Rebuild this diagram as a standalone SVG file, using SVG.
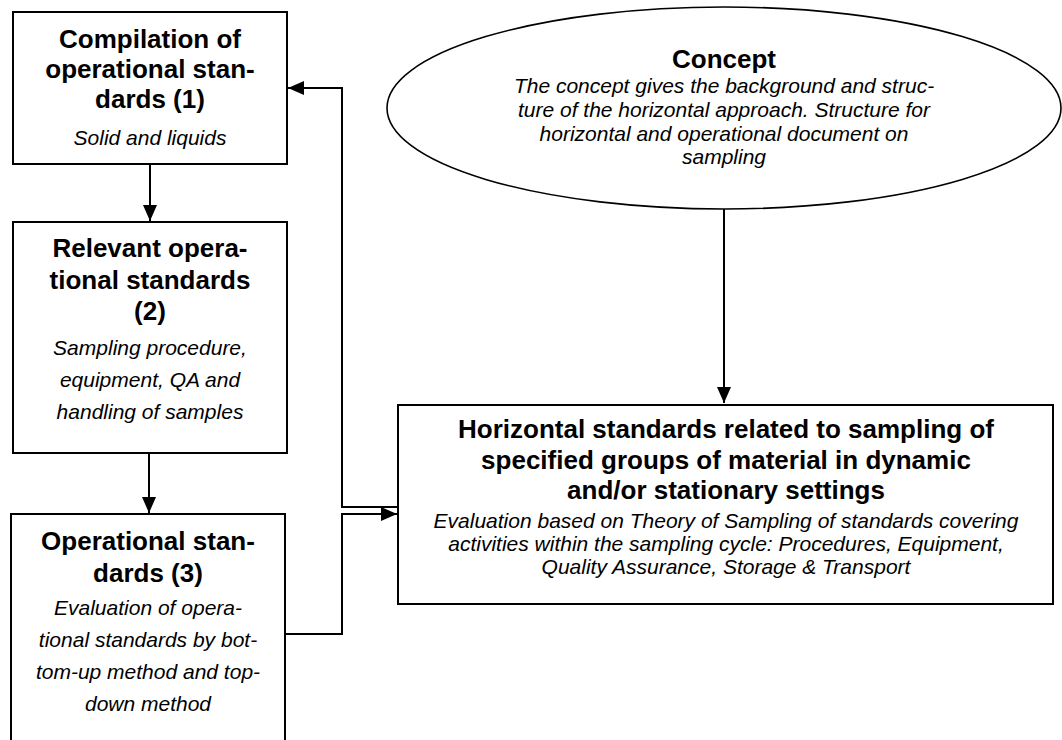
<svg xmlns="http://www.w3.org/2000/svg" width="1062" height="740" viewBox="0 0 1062 740">
<style>
.box{fill:#fff;stroke:#000;stroke-width:2}
.ell{fill:#fff;stroke:#000;stroke-width:1.6}
.h{font-family:"Liberation Sans",Arial,sans-serif;font-weight:bold;font-size:26px;text-anchor:middle;fill:#000}
.i{font-family:"Liberation Sans",Arial,sans-serif;font-style:italic;font-size:21px;text-anchor:middle;fill:#000}
.c{fill:none;stroke:#000;stroke-width:2}
</style>
<defs>
<marker id="arr" markerUnits="userSpaceOnUse" markerWidth="16" markerHeight="14" refX="16" refY="7" orient="auto">
<path d="M0,0 L16,7 L0,14 z" fill="#000"/>
</marker>
</defs>
<rect width="1062" height="740" fill="#fff"/>
<g id="connectors">
<path class="c" d="M150,164 L150,221" marker-end="url(#arr)"/>
<path class="c" d="M149,453 L149,513" marker-end="url(#arr)"/>
<path class="c" d="M724,209 L724,403" marker-end="url(#arr)"/>
<path class="c" d="M398,507 L342,507 L342,88 L288,88" marker-end="url(#arr)"/>
<path class="c" d="M285,634 L342,634 L342,514 L397,514" marker-end="url(#arr)"/>
</g>
<g id="node-compilation">
<rect class="box" x="13" y="12" width="274" height="152"/>
<text class="h" x="150" y="48">Compilation of</text>
<text class="h" x="150" y="78">operational stan-</text>
<text class="h" x="150" y="108">dards (1)</text>
<text class="i" x="150" y="145">Solid and liquids</text>
</g>
<g id="node-relevant">
<rect class="box" x="13" y="222" width="274" height="231"/>
<text class="h" x="150" y="257">Relevant opera-</text>
<text class="h" x="150" y="289">tional standards</text>
<text class="h" x="150" y="320">(2)</text>
<text class="i" x="150" y="355">Sampling procedure,</text>
<text class="i" x="150" y="387">equipment, QA and</text>
<text class="i" x="150" y="419">handling of samples</text>
</g>
<g id="node-operational">
<rect class="box" x="11" y="514" width="274" height="240"/>
<text class="h" x="148" y="550">Operational stan-</text>
<text class="h" x="148" y="582">dards (3)</text>
<text class="i" x="148" y="615">Evaluation of opera-</text>
<text class="i" x="148" y="647">tional standards by bot-</text>
<text class="i" x="148" y="679">tom-up method and top-</text>
<text class="i" x="148" y="711">down method</text>
</g>
<g id="node-concept">
<ellipse class="ell" cx="724" cy="108" rx="337" ry="101"/>
<text class="h" x="724" y="68">Concept</text>
<text class="i" x="724" y="93">The concept gives the background and struc-</text>
<text class="i" x="724" y="117">ture of the horizontal approach. Structure for</text>
<text class="i" x="724" y="141">horizontal and operational document on</text>
<text class="i" x="724" y="164">sampling</text>
</g>
<g id="node-horizontal">
<rect class="box" x="398" y="405" width="655" height="199"/>
<text class="h" x="726" y="438">Horizontal standards related to sampling of</text>
<text class="h" x="726" y="469">specified groups of material in dynamic</text>
<text class="h" x="726" y="499">and/or stationary settings</text>
<text class="i" x="726" y="528">Evaluation based on Theory of Sampling of standards covering</text>
<text class="i" x="726" y="551">activities within the sampling cycle: Procedures, Equipment,</text>
<text class="i" x="726" y="574">Quality Assurance, Storage &amp; Transport</text>
</g>
</svg>
